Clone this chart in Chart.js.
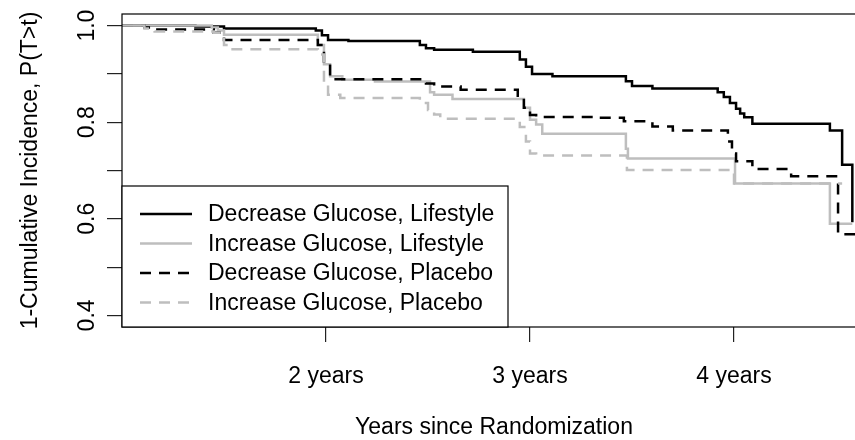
<!DOCTYPE html>
<html lang="en">
<head>
    <meta charset="UTF-8">
    <title>1-Cumulative Incidence</title>
    <style>
        html, body {
            margin: 0;
            padding: 0;
            overflow: hidden;
            background: #fff;
        }
        /* the plot frame runs a little past the right edge of the window, as in the original */
        .chart-container {
            position: relative;
            width: 870px;
            height: 440px;
        }
    </style>
    <script src="https://cdn.jsdelivr.net/npm/chart.js"></script>
</head>
<body>
    <div class="chart-container">
        <canvas id="km-chart"></canvas>
    </div>

    <script>
        // Step curves (time in years, value = 1 - cumulative incidence)
        const seriesLabels = [
            'Decrease Glucose, Lifestyle',
            'Increase Glucose, Lifestyle',
            'Decrease Glucose, Placebo',
            'Increase Glucose, Placebo'
        ];

        const decLifestyleT = [1.0, 1.36, 1.50, 1.95, 1.98, 2.01, 2.11, 2.46, 2.49, 2.53, 2.72, 2.95, 2.98, 3.01, 3.11, 3.47, 3.50, 3.60, 3.92, 3.95, 3.98, 4.01, 4.03, 4.05, 4.09, 4.47, 4.53, 4.58];
        const decLifestyleS = [1.0, 0.998, 0.994, 0.990, 0.980, 0.970, 0.968, 0.960, 0.953, 0.950, 0.946, 0.930, 0.915, 0.900, 0.895, 0.885, 0.875, 0.870, 0.862, 0.852, 0.840, 0.828, 0.818, 0.810, 0.797, 0.783, 0.712, 0.593];

        const incLifestyleT = [1.0, 1.44, 1.47, 1.50, 1.96, 1.99, 2.02, 2.08, 2.24, 2.51, 2.53, 2.62, 2.97, 3.0, 3.03, 3.06, 3.47, 3.48, 4.005, 4.47, 4.58];
        const incLifestyleS = [1.0, 0.996, 0.990, 0.981, 0.960, 0.920, 0.895, 0.888, 0.884, 0.862, 0.857, 0.848, 0.830, 0.805, 0.795, 0.776, 0.745, 0.725, 0.673, 0.590, 0.590];

        const decPlaceboT = [1.0, 1.11, 1.15, 1.45, 1.50, 1.96, 1.99, 2.02, 2.04, 2.49, 2.53, 2.66, 2.94, 2.97, 3.0, 3.03, 3.33, 3.46, 3.60, 3.70, 3.97, 3.99, 4.01, 4.09, 4.28, 4.51, 4.65];
        const decPlaceboS = [1.0, 0.996, 0.992, 0.985, 0.970, 0.960, 0.920, 0.895, 0.889, 0.880, 0.874, 0.867, 0.855, 0.830, 0.815, 0.811, 0.809, 0.802, 0.791, 0.783, 0.760, 0.735, 0.719, 0.703, 0.688, 0.568, 0.568];

        const incPlaceboT = [1.0, 1.11, 1.16, 1.45, 1.50, 1.52, 1.96, 1.99, 2.01, 2.07, 2.46, 2.50, 2.53, 2.56, 2.95, 2.98, 3.0, 3.03, 3.475, 4.0, 4.53];
        const incPlaceboS = [1.0, 0.994, 0.988, 0.985, 0.960, 0.951, 0.940, 0.880, 0.857, 0.850, 0.840, 0.825, 0.816, 0.807, 0.790, 0.760, 0.735, 0.731, 0.701, 0.673, 0.673];

        const xTickValues = [2, 3, 4];
        const yTickValues = [0.4, 0.5, 0.6, 0.7, 0.8, 0.9, 1.0];
        const yTickLabels = ['0.4', '', '0.6', '', '0.8', '', '1.0'];

        const FONT = "'Liberation Sans', Arial, Helvetica, sans-serif";
        const FONT_SIZE = 23;
        const GREY = '#bebebe';

        const toPoints = (t, s) => t.map((x, i) => ({ x: x, y: s[i] }));

        const lineStyles = [
            { color: '#000', dash: [] },
            { color: GREY, dash: [] },
            { color: '#000', dash: [11, 8] },
            { color: GREY, dash: [11, 8] }
        ];
        const seriesData = [
            toPoints(decLifestyleT, decLifestyleS),
            toPoints(incLifestyleT, incLifestyleS),
            toPoints(decPlaceboT, decPlaceboS),
            toPoints(incPlaceboT, incPlaceboS)
        ];

        // frame, rotated y labels (R style) and boxed legend
        const framePlugin = {
            id: 'rFrame',
            afterDraw(chart) {
                const { ctx, chartArea } = chart;
                const ys = chart.scales.y;

                ctx.save();
                ctx.strokeStyle = '#000';
                ctx.lineWidth = 1.2;
                ctx.strokeRect(chartArea.left, chartArea.top, chartArea.right - chartArea.left, chartArea.bottom - chartArea.top);

                ctx.fillStyle = '#000';
                ctx.font = `${FONT_SIZE}px ${FONT}`;
                yTickValues.forEach((v, i) => {
                    if (!yTickLabels[i]) return;
                    ctx.save();
                    ctx.translate(ys.right - 28, ys.getPixelForValue(v));
                    ctx.rotate(-Math.PI / 2);
                    ctx.textAlign = 'center';
                    ctx.textBaseline = 'alphabetic';
                    ctx.fillText(yTickLabels[i], 0, 0);
                    ctx.restore();
                });

                // legend box in the lower left corner
                const boxW = 386, boxH = 141;
                const bx = chartArea.left, by = chartArea.bottom - boxH;
                ctx.fillStyle = '#fff';
                ctx.fillRect(bx, by, boxW, boxH);
                ctx.lineWidth = 1.2;
                ctx.strokeStyle = '#000';
                ctx.strokeRect(bx, by, boxW, boxH);

                ctx.font = `${FONT_SIZE}px ${FONT}`;
                ctx.textAlign = 'left';
                ctx.textBaseline = 'middle';
                chart.data.datasets.forEach((ds, i) => {
                    const rowY = by + 28 + i * 29.5;
                    ctx.beginPath();
                    ctx.setLineDash(ds.borderDash);
                    ctx.strokeStyle = ds.borderColor;
                    ctx.lineWidth = ds.borderWidth;
                    ctx.moveTo(bx + 18, rowY);
                    ctx.lineTo(bx + 70, rowY);
                    ctx.stroke();
                    ctx.setLineDash([]);
                    ctx.fillStyle = '#000';
                    ctx.fillText(ds.label, bx + 86, rowY + 1);
                });
                ctx.restore();
            }
        };

        document.addEventListener('DOMContentLoaded', () => {
            const chartCanvas = document.getElementById('km-chart');

            const chart = new Chart(chartCanvas, {
                type: 'line',
                data: {
                    datasets: seriesLabels.map((label, i) => ({
                        label: label,
                        data: seriesData[i],
                        borderColor: lineStyles[i].color,
                        borderDash: lineStyles[i].dash,
                        borderWidth: 2.5,
                        stepped: 'before',
                        pointRadius: 0,
                        fill: false,
                        order: seriesLabels.length - i
                    }))
                },
                options: {
                    responsive: true,
                    maintainAspectRatio: false,
                    animation: false,
                    layout: {
                        padding: { top: 14, right: 4, bottom: 0, left: 0 }
                    },
                    plugins: {
                        legend: { display: false },
                        tooltip: { enabled: false }
                    },
                    scales: {
                        x: {
                            type: 'linear',
                            min: 1.0,
                            max: 4.647,
                            afterBuildTicks: (scale) => {
                                scale.ticks = xTickValues.map(v => ({ value: v }));
                            },
                            afterFit: (scale) => { scale.height = 113; },
                            grid: {
                                drawOnChartArea: false,
                                drawTicks: true,
                                tickLength: 15,
                                color: '#222',
                                lineWidth: 1.2
                            },
                            border: { display: false },
                            ticks: {
                                color: '#000',
                                font: { family: FONT, size: FONT_SIZE },
                                padding: 21,
                                maxRotation: 0,
                                callback: (v) => `${v} years`
                            },
                            title: {
                                display: true,
                                text: 'Years since Randomization',
                                color: '#000',
                                font: { family: FONT, size: FONT_SIZE, lineHeight: 1 },
                                padding: { top: 0, bottom: 1 }
                            }
                        },
                        y: {
                            type: 'linear',
                            min: 0.376,
                            max: 1.024,
                            afterBuildTicks: (scale) => {
                                scale.ticks = yTickValues.map(v => ({ value: v }));
                            },
                            afterFit: (scale) => { scale.width = 122; },
                            grid: {
                                drawOnChartArea: false,
                                drawTicks: true,
                                tickLength: 15,
                                color: '#222',
                                lineWidth: 1.2
                            },
                            border: { display: false },
                            ticks: { display: false },
                            title: {
                                display: true,
                                text: '1-Cumulative Incidence, P(T>t)',
                                color: '#000',
                                font: { family: FONT, size: FONT_SIZE, lineHeight: 1.2 },
                                padding: { top: 17, bottom: 0 }
                            }
                        }
                    }
                },
                plugins: [framePlugin]
            });
        });
    </script>
</body>
</html>
